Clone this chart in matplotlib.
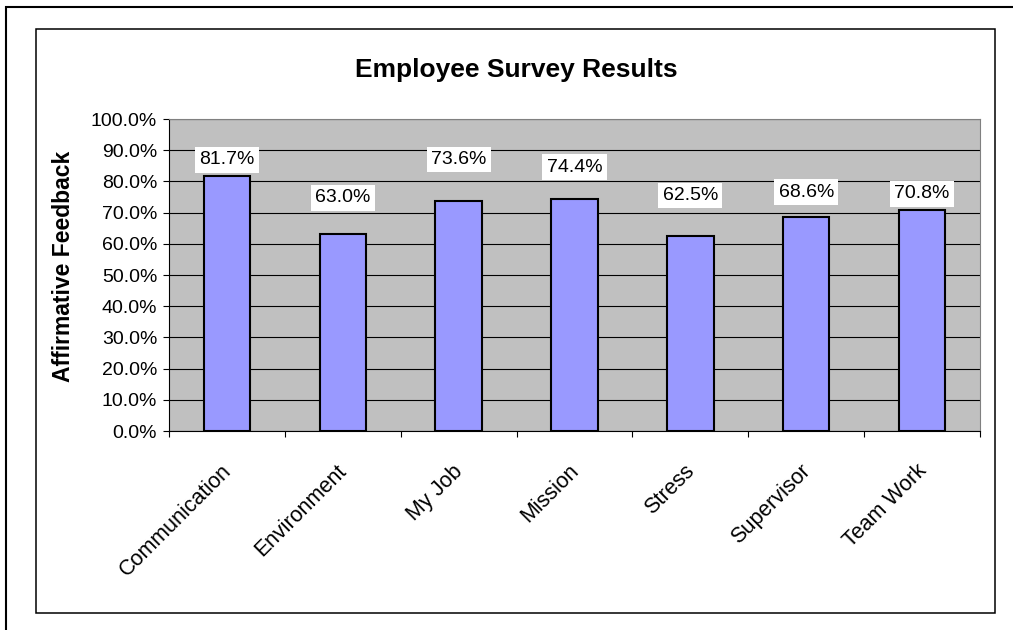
import matplotlib
matplotlib.use('Agg')
import matplotlib.pyplot as plt
from matplotlib.patches import Rectangle

categories = ['Communication', 'Environment', 'My Job', 'Mission', 'Stress', 'Supervisor', 'Team Work']
values = [81.7, 63.0, 73.6, 74.4, 62.5, 68.6, 70.8]
# where each value label sits (the labels were dragged around in the original)
label_y = [86.9, 74.7, 87.0, 84.6, 75.5, 76.6, 76.0]
yticks = [0, 10, 20, 30, 40, 50, 60, 70, 80, 90, 100]

plt.rcParams['font.family'] = ['Liberation Sans', 'DejaVu Sans']

W, H = 1013, 630
fig = plt.figure(figsize=(W / 100, H / 100), dpi=100)
fig.patch.set_facecolor('white')

# frames round the chart
fig.patches.append(Rectangle((6 / W, -0.05), 1.2, 1 - 7 / H + 0.05, transform=fig.transFigure,
                             fill=False, ec='black', lw=1.5, zorder=0))
fig.patches.append(Rectangle((36 / W, 1 - 613 / H), (995 - 36) / W, (613 - 29) / H,
                             transform=fig.transFigure, fill=False, ec='black', lw=1.1, zorder=0))

ax = fig.add_axes([169 / W, 1 - 431 / H, (980 - 169) / W, (431 - 119) / H])
ax.set_facecolor('#C0C0C0')

x = list(range(len(categories)))
ax.bar(x, values, width=0.4, color='#9999FF', edgecolor='black', linewidth=1.5, zorder=3)

for xi, v, ly in zip(x, values, label_y):
    ax.text(xi, ly, '%.1f%%' % v, ha='center', va='center', fontsize=14, zorder=5,
            bbox=dict(boxstyle='square,pad=0.22', fc='white', ec='none'))

ax.set_ylim(0, 100)
ax.set_xlim(-0.5, len(categories) - 0.5)
ax.set_yticks(yticks)
ax.set_yticklabels(['%.1f%%' % t for t in yticks], fontsize=14)
ax.yaxis.grid(True, color='black', linewidth=0.8, zorder=1)
ax.set_axisbelow(True)

ax.set_xticks([i - 0.5 for i in range(len(categories) + 1)])
ax.set_xticklabels([])
ax.tick_params(axis='both', direction='out', length=4.5, width=0.8, color='black')
ax.tick_params(axis='y', pad=4)

for s in ['left', 'bottom']:
    ax.spines[s].set_color('black')
    ax.spines[s].set_linewidth(0.8)
for s in ['top', 'right']:
    ax.spines[s].set_color('#808080')
    ax.spines[s].set_linewidth(0.8)

for xi, name in zip(x, categories):
    ax.text(xi - 0.055, -0.095, name, transform=ax.get_xaxis_transform(), rotation=45,
            rotation_mode='anchor', ha='right', va='top', fontsize=15.5)

fig.text(516 / W, 1 - 77 / H, 'Employee Survey Results', ha='center', va='baseline',
         fontsize=19, fontweight='bold')
fig.text(64 / W, 1 - 266 / H, 'Affirmative Feedback', ha='center', va='center',
         rotation=90, fontsize=16.5, fontweight='bold')

fig.savefig('out.png', dpi=100)
